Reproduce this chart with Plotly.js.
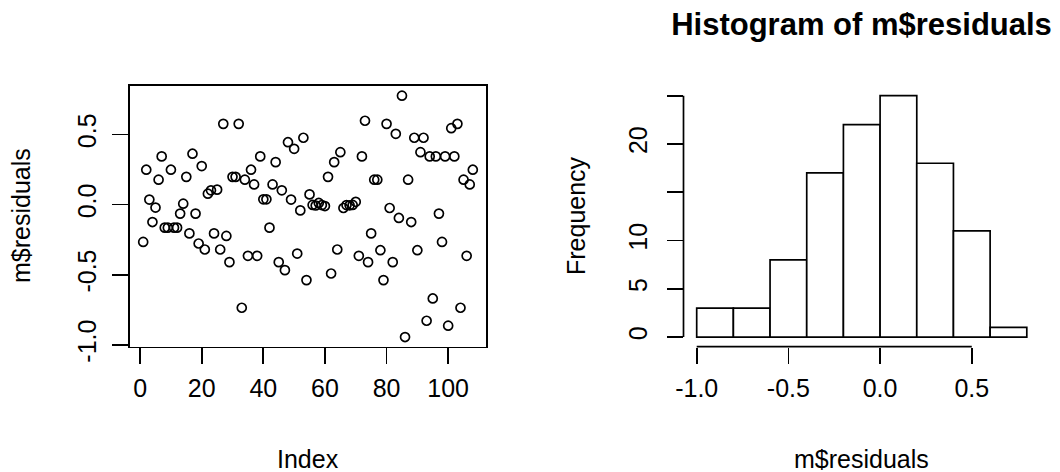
<!DOCTYPE html>
<html>
<head>
<meta charset="utf-8">
<script src="https://cdn.plot.ly/plotly-3.0.1.min.js"></script>
<style>html,body{margin:0;padding:0;background:#fff;}</style>
</head>
<body>
<div id="chart" style="width:1060px;height:472px;"></div>
<script>
// ---- data ----
const residuals = [
  -0.266, 0.249, 0.036, -0.124, -0.021, 0.178, 0.344, -0.164, -0.164, 0.249,
  -0.164, -0.164, -0.064, 0.007, 0.198, -0.205, 0.363, -0.064, -0.277, 0.275,
  -0.320, 0.078, 0.102, -0.205, 0.107, -0.320, 0.576, -0.223, -0.410, 0.198,
  0.198, 0.576, -0.735, 0.178, -0.365, 0.249, 0.144, -0.365, 0.344, 0.038,
  0.038, -0.164, 0.144, 0.303, -0.410, 0.102, -0.467, 0.445, 0.036, 0.398,
  -0.349, -0.041, 0.477, -0.538, 0.073, -0.002, -0.006, 0.012, -0.003, -0.010,
  0.198, -0.491, 0.303, -0.320, 0.374, -0.024, -0.003, -0.005, -0.002, 0.020,
  -0.365, 0.344, 0.598, -0.410, -0.205, 0.178, 0.178, -0.325, -0.538, 0.576,
  -0.024, -0.410, 0.505, -0.095, 0.777, -0.944, 0.178, -0.124, 0.477, -0.325,
  0.374, 0.477, -0.828, 0.344, -0.669, 0.344, -0.064, -0.266, 0.344, -0.863,
  0.545, 0.344, 0.576, -0.735, 0.178, -0.365, 0.144, 0.249
];
const breaks = [-1.0, -0.8, -0.6, -0.4, -0.2, 0.0, 0.2, 0.4, 0.6, 0.8];
const counts = [3, 3, 8, 17, 22, 25, 18, 11, 1];

const scatterXTicks = [0, 20, 40, 60, 80, 100];
const scatterYTicks = [-1.0, -0.5, 0.0, 0.5];
const scatterYTickText = ['-1.0', '-0.5', '0.0', '0.5'];
const histXTicks = [-1.0, -0.5, 0.0, 0.5];
const histXTickText = ['-1.0', '-0.5', '0.0', '0.5'];
const histYTicks = [0, 5, 10, 15, 20, 25];
const histYTickText = ['0', '5', '10', '', '20', ''];

const mainTitle = 'Histogram of m$residuals';
const scatterXLabel = 'Index';
const scatterYLabel = 'm$residuals';
const histXLabel = 'm$residuals';
const histYLabel = 'Frequency';

// ---- derived ----
const idx = residuals.map((_, i) => i + 1);
const centers = counts.map((_, i) => (breaks[i] + breaks[i + 1]) / 2);
const widths = counts.map((_, i) => breaks[i + 1] - breaks[i]);
function rExt(lo, hi) { const d = (hi - lo) * 0.04; return [lo - d, hi + d]; }
const xr1 = rExt(1, residuals.length);
const yr1 = rExt(Math.min(...residuals), Math.max(...residuals));
const xr2 = rExt(breaks[0], breaks[breaks.length - 1]);
const yr2 = rExt(0, Math.max(...counts));

const W = 1060, H = 472;
const FONT = 'Liberation Sans, Arial, Helvetica, sans-serif';
const LW = 1.7;
const ydom = [1 - 346.7 / H, 1 - 86 / H];

const baseAxis = {
  ticks: 'outside', ticklen: 16, tickwidth: LW, tickcolor: '#000',
  showgrid: false, zeroline: false, tickmode: 'array',
  tickfont: {family: FONT, size: 25, color: '#000'}, fixedrange: true
};

const traces = [
  {
    type: 'scatter', mode: 'markers', x: idx, y: residuals,
    xaxis: 'x', yaxis: 'y',
    marker: {symbol: 'circle-open', size: 9, color: '#000', line: {width: 1.7, color: '#000'}},
    hoverinfo: 'x+y'
  },
  {
    type: 'bar', x: centers, y: counts, width: widths,
    xaxis: 'x2', yaxis: 'y2',
    marker: {color: '#fff', line: {color: '#000', width: LW}}
  }
];

const layout = {
  width: W, height: H,
  margin: {l: 0, r: 0, t: 0, b: 0},
  paper_bgcolor: '#fff', plot_bgcolor: '#fff',
  showlegend: false,
  font: {family: FONT, size: 25, color: '#000'},
  title: {
    text: mainTitle, font: {family: FONT, size: 31, weight: 'bold', color: '#000'},
    x: 861.5 / W, xref: 'paper', xanchor: 'center',
    y: 1 - 24 / H, yref: 'container', yanchor: 'middle'
  },
  xaxis: Object.assign({}, baseAxis, {
    domain: [130 / W, 486 / W], range: xr1, anchor: 'y',
    tickvals: scatterXTicks, ticktext: scatterXTicks.map(String),
    showline: true, mirror: true, linewidth: LW, linecolor: '#000',
    ticklabelstandoff: 3
  }),
  yaxis: Object.assign({}, baseAxis, {
    domain: ydom, range: yr1, anchor: 'x',
    tickvals: scatterYTicks, ticktext: scatterYTickText, tickangle: -90,
    showline: true, mirror: true, linewidth: LW, linecolor: '#000',
    ticklabelstandoff: 6
  }),
  xaxis2: Object.assign({}, baseAxis, {
    domain: [683.5 / W, 1040 / W], range: xr2, anchor: 'y2',
    tickvals: histXTicks, ticktext: histXTickText, showline: false,
    ticklabelstandoff: 3
  }),
  yaxis2: Object.assign({}, baseAxis, {
    domain: ydom, range: yr2, anchor: 'x2',
    tickvals: histYTicks, ticktext: histYTickText, tickangle: -90, showline: false,
    ticklabelstandoff: 10
  }),
  shapes: [
    {type: 'line', xref: 'x2', yref: 'y2 domain',
     x0: histXTicks[0], x1: histXTicks[histXTicks.length - 1], y0: 0, y1: 0,
     line: {color: '#000', width: LW}},
    {type: 'line', xref: 'x2 domain', yref: 'y2',
     x0: 0, x1: 0, y0: histYTicks[0], y1: histYTicks[histYTicks.length - 1],
     line: {color: '#000', width: LW}}
  ],
  annotations: [
    {text: scatterXLabel, xref: 'paper', yref: 'paper', x: 308 / W, y: 1 - 459 / H,
     xanchor: 'center', yanchor: 'middle', showarrow: false, font: {family: FONT, size: 25, color: '#000'}},
    {text: histXLabel, xref: 'paper', yref: 'paper', x: 861.5 / W, y: 1 - 459 / H,
     xanchor: 'center', yanchor: 'middle', showarrow: false, font: {family: FONT, size: 25, color: '#000'}},
    {text: scatterYLabel, xref: 'paper', yref: 'paper', x: 21 / W, y: 1 - 216 / H,
     xanchor: 'center', yanchor: 'middle', textangle: -90, showarrow: false, font: {family: FONT, size: 25, color: '#000'}},
    {text: histYLabel, xref: 'paper', yref: 'paper', x: 576 / W, y: 1 - 216 / H,
     xanchor: 'center', yanchor: 'middle', textangle: -90, showarrow: false, font: {family: FONT, size: 25, color: '#000'}}
  ]
};

Plotly.newPlot('chart', traces, layout, {staticPlot: true, displayModeBar: false});
</script>
</body>
</html>
